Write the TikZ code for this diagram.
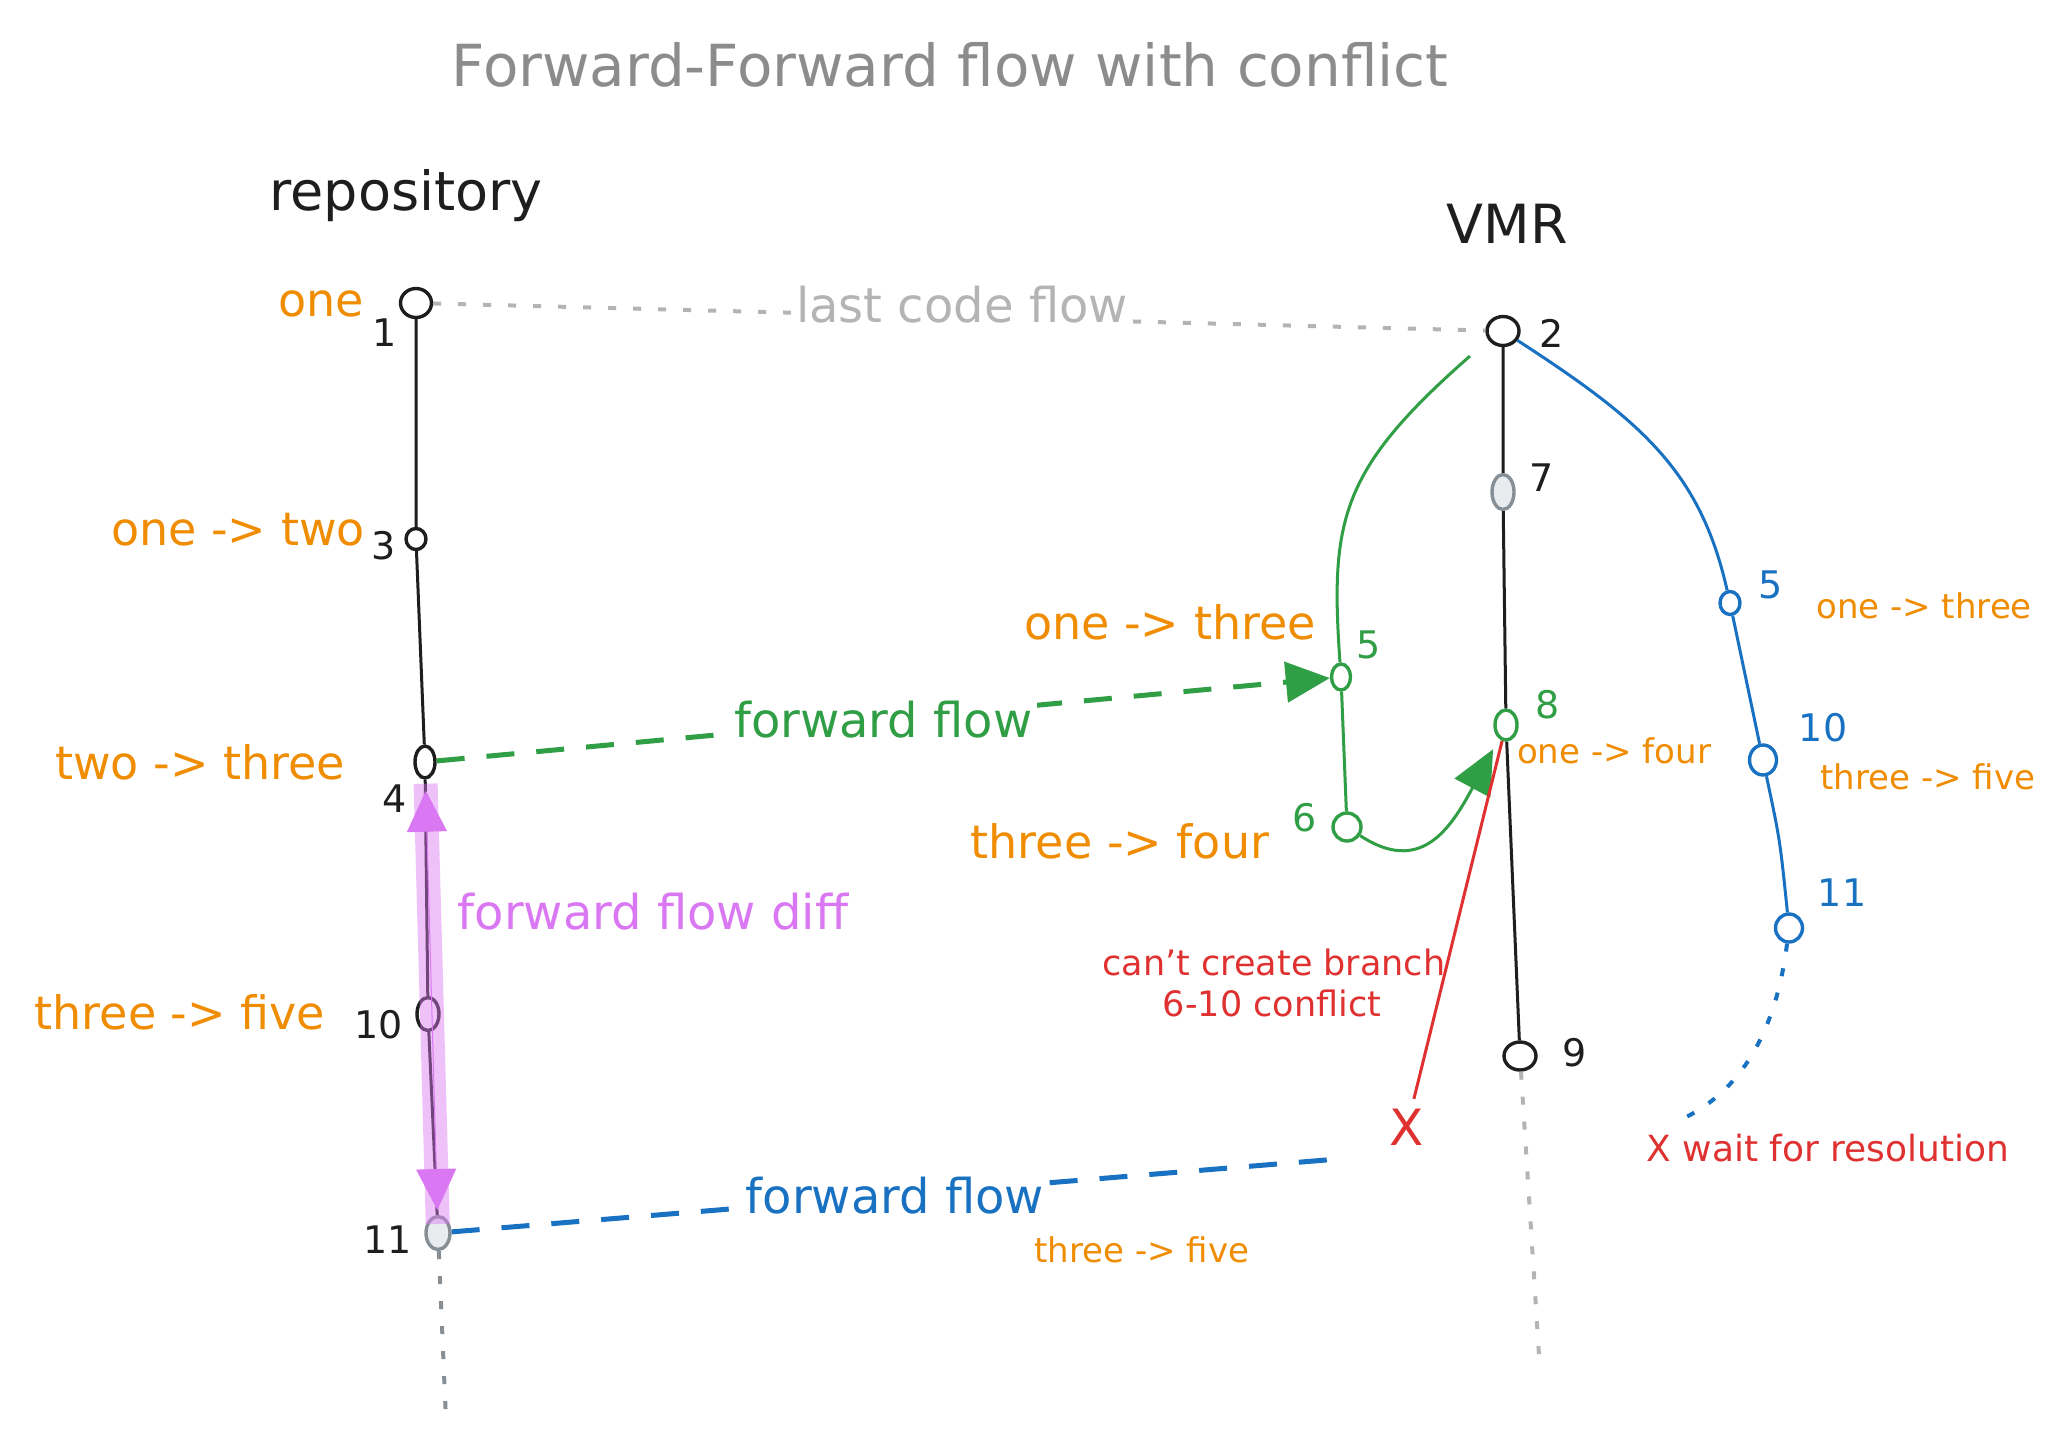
\documentclass[tikz,border=0pt]{standalone}
\usepackage{fontspec}
\setmainfont{DejaVu Sans}
\usetikzlibrary{shapes.geometric,arrows.meta}
\definecolor{ink}{HTML}{1E1E1E}
\definecolor{orng}{HTML}{F08C00}
\definecolor{grn}{HTML}{2F9E44}
\definecolor{blu}{HTML}{1971C2}
\definecolor{rd}{HTML}{E03131}
\definecolor{vio}{HTML}{DA77F2}
\definecolor{titlegrey}{HTML}{8C8C8C}
\definecolor{dotgrey}{HTML}{B4B4B4}
\definecolor{commitfill}{HTML}{E9ECEF}
\definecolor{commitgrey}{HTML}{868E96}
\newcommand{\commitwd}{3.4pt}
\newcommand{\fftitle}{\fontsize{58}{64}\selectfont}
\newcommand{\ffhead}{\fontsize{54}{60}\selectfont}
\newcommand{\ffflow}{\fontsize{48}{54}\selectfont}
\newcommand{\ffbig}{\fontsize{46}{52}\selectfont}
\newcommand{\ffsmall}{\fontsize{34}{40}\selectfont}
\newcommand{\ffnum}{\fontsize{38}{44}\selectfont}
\newcommand{\ffred}{\fontsize{35}{42}\selectfont}
\newcommand{\ffx}{\fontsize{50}{56}\selectfont}

\begin{document}
\begin{tikzpicture}[x=1pt,y=-1pt,
    commit/.style={draw=ink, ellipse, line width=\commitwd, fill=white, inner sep=0pt},
    greycommit/.style={commit, draw=commitgrey, fill=commitfill},
    sz/.style 2 args={minimum width=#1pt, minimum height=#2pt},
    branchline/.style={line width=3pt, ink},
    flowdash/.style={line width=5pt, dash pattern=on 28pt off 22pt},
    dotline/.style={line width=4pt, dash pattern=on 8pt off 17pt},
    bighead/.style={-{Triangle[length=44pt,width=40pt]}},
    biglbl/.style={text=orng, font=\ffbig, inner sep=0pt},
    smalllbl/.style={text=orng, font=\ffsmall, inner sep=0pt},
    numlbl/.style={text=ink, font=\ffnum, inner sep=0pt},
    redlbl/.style={text=rd, font=\ffred, inner sep=0pt},
    onpath/.style={fill=white, inner sep=5pt, font=\ffflow}]

        \useasboundingbox[fill=white] (0,0) rectangle (2064,1449);

        \node (title) at (950,65) [text=titlegrey, font=\fftitle, inner sep=0pt] {Forward-Forward flow with conflict};
        \node (repo) at (406,196) [text=ink, font=\ffhead, inner sep=0pt] {repository};
        \node (vmr) at (1507,224) [text=ink, font=\ffhead, inner sep=0pt] {VMR};

        \node (c1) at (416,303) [commit, sz={31}{29}] {};
        \node (c3) at (416,539) [commit, sz={20}{21}] {};
        \node (c4) at (425,762) [commit, sz={20}{32}] {};
        \node (c10) at (428,1014) [commit, sz={22}{33}] {};
        \node (c11) at (438,1233) [greycommit, sz={24}{33}] {};

        \node (v2) at (1503,331) [commit, sz={32}{29}] {};
        \node (v7) at (1503,492) [greycommit, sz={22}{35}] {};
        \node (v8) at (1506,725) [commit, draw=grn, sz={22}{30}] {};
        \node (v9) at (1520,1056) [commit, sz={32}{28}] {};

        \node (g5) at (1341,677) [commit, draw=grn, sz={19}{26}] {};
        \node (g6) at (1347,827) [commit, draw=grn, sz={28}{28}] {};

        \node (b5) at (1730,603) [commit, draw=blu, sz={20}{23}] {};
        \node (b10) at (1763,760) [commit, draw=blu, sz={27}{30}] {};
        \node (b11) at (1789,928) [commit, draw=blu, sz={27}{28}] {};

        \coordinate (gtop) at (1470,356);
        \coordinate (bwait) at (1680,1120);
        \coordinate (bstop) at (1338,1159);
        \coordinate (repoend) at (446,1420);
        \coordinate (vmrend) at (1540,1371);

        \draw[dotline, dotgrey] (c1) to (v2);
        \node (lastflow) at (962,305) [onpath, text=dotgrey] {last code flow};

        \draw[branchline]
        (c1) to (c3) to (c4) to (c10) to (c11)
        (v2) to (v7) to (v8) to (v9);
        \draw[dotline, commitgrey] (c11) to (repoend);
        \draw[dotline, dotgrey] (v9) to (vmrend);

        \draw[branchline, grn] (gtop) .. controls (1340,470) and (1330,520) .. (g5) to (g6);
        \draw[branchline, grn, bighead, shorten >=12pt] (g6) .. controls (1420,875) and (1450,830) .. (v8);

        \draw[branchline, blu] (v2) .. controls (1640,420) and (1700,470) .. (b5) to (b10) .. controls (1780,840) .. (b11);
        \draw[dotline, blu] (b11) .. controls (1775,1040) and (1735,1095) .. (bwait);

        \draw[flowdash, grn, bighead] (c4) to node[onpath, text=grn, pos=0.5] (ffgreen) {forward flow} (g5);
        \draw[flowdash, blu] (c11) to node[onpath, text=blu, pos=0.5] (ffblue) {forward flow} (bstop);

        \draw[vio, opacity=0.45, line width=24pt, shorten <=4pt, shorten >=9pt] (c4) to (c11.center);
        \draw[vio, line width=1pt, {Triangle[length=41pt,width=40pt]}-{Triangle[length=41pt,width=40pt]}, shorten <=11pt, shorten >=23pt] (c4) to (c11.center);
        \node (difflbl) at (653,912) [text=vio, font=\ffflow, inner sep=0pt] {forward flow diff};

        \node (redx) at (1407,1127) [text=rd, font=\ffx, inner sep=2pt] {X};
        \draw[rd, line width=3pt, shorten <=8pt] (redx) to (v8);
        \node (cant1) at (1274,962) [redlbl] {can't create branch};
        \node (cant2) at (1272,1003) [redlbl] {6-10 conflict};
        \node (waitlbl) at (1828,1148) [redlbl, font=\fontsize{36}{42}\selectfont] {X wait for resolution};

        \node (lone) at (321,304) [biglbl] {one};
        \node (lonetwo) at (238,530) [biglbl] {one -> two};
        \node (ltwothree) at (200,762) [biglbl] {two -> three};
        \node (lthreefive) at (180,1012) [biglbl] {three -> five};
        \node (lonethree) at (1170,622) [biglbl] {one -> three};
        \node (lthreefour) at (1120,841) [biglbl] {three -> four};
        \node (sonefour) at (1614,751) [smalllbl] {one -> four};
        \node (sonethree) at (1924,606) [smalllbl] {one -> three};
        \node (sthreefive) at (1928,777) [smalllbl] {three -> five};
        \node (sthreefivebot) at (1142,1250) [smalllbl] {three -> five};

        \node (n1) at (385,333) [numlbl] {1};
        \node (n3) at (384,546) [numlbl] {3};
        \node (n4) at (395,799) [numlbl] {4};
        \node (n10) at (379,1025) [numlbl] {10};
        \node (n11) at (388,1240) [numlbl] {11};
        \node (n2) at (1552,333) [numlbl] {2};
        \node (n7) at (1542,478) [numlbl] {7};
        \node (n8) at (1548,705) [numlbl, text=grn] {8};
        \node (n9) at (1575,1053) [numlbl] {9};
        \node (ng5) at (1369,645) [numlbl, text=grn] {5};
        \node (ng6) at (1305,818) [numlbl, text=grn] {6};
        \node (nb5) at (1771,585) [numlbl, text=blu] {5};
        \node (nb10) at (1823,728) [numlbl, text=blu] {10};
        \node (nb11) at (1842,893) [numlbl, text=blu] {11};
          \end{tikzpicture}
\end{document}
